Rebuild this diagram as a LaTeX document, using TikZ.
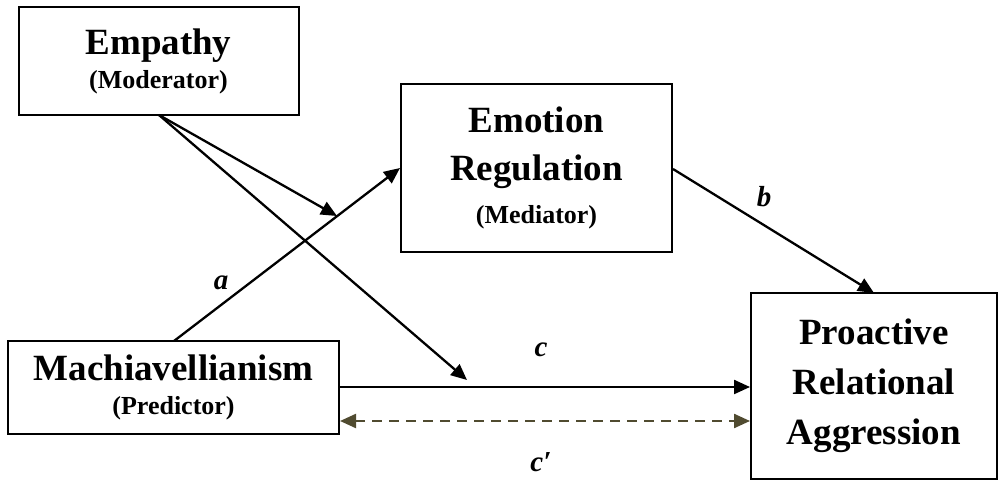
\documentclass[tikz,border=0pt]{standalone}
\usepackage{fontspec}
\setmainfont{Liberation Serif}
\usetikzlibrary{arrows.meta}

\begin{document}
\begin{tikzpicture}[x=0.5pt,y=-0.5pt,
            every node/.style={align=center,inner sep=0pt,font=\bfseries\fontsize{18.5pt}{24pt}\selectfont},
            var/.style={draw,line width=1pt},
            path/.style={line width=1.15pt,-{Triangle[length=8pt,width=7pt]}},
            coef/.style={font=\bfseries\itshape\fontsize{14.5pt}{16pt}\selectfont}]
                \useasboundingbox (0,0) rectangle (998,481);
                \definecolor{olivedash}{RGB}{80,75,48}
                \newcommand{\role}[1]{{\fontsize{13pt}{16pt}\selectfont #1}}

                \node[var,minimum width=140pt,minimum height=54pt](emp) at (158.5, 61) {Empathy\\[-7pt]\role{(Moderator)}};
                \node[var,minimum width=135.5pt,minimum height=84pt](emo) at (536.5, 168) {Emotion\\Regulation\\[-2.5pt]\role{(Mediator)}};
                \node[var,minimum width=165.5pt,minimum height=46.5pt](mach) at (173.5, 387.5) {Machiavellianism\\[-7pt]\role{(Predictor)}};
                \node[var,minimum width=123pt,minimum height=93pt](pra) at (874, 386) {Proactive\\[1pt]Relational\\[1pt]Aggression};

                \coordinate (empfoot) at (159, 115);
                \coordinate (machtop) at (174, 341);
                \coordinate (modA) at (337, 216);
                \coordinate (modC) at (467, 380);

            \begin{scope}[path]
                \draw (machtop) -- (emo.west |- 0,168);
                \draw (emo.east |- 0,169) -- (pra.north |- 0,293);
                \draw (mach.east |- 0,387) -- (pra.west |- 0,387);
                \draw (empfoot) -- (modA);
                \draw (empfoot) -- (modC);
                \draw[olivedash,dash pattern=on 5pt off 3.5pt,{Triangle[length=8pt,width=7pt]}-{Triangle[length=8pt,width=7pt]}]
                    (mach.east |- 0,421) -- (pra.west |- 0,421);
            \end{scope}

                \node[coef](la) at (221, 283) {a};
                \node[coef](lb) at (764, 197) {b};
                \node[coef](lc) at (541, 350) {c};
                \node[coef](lcp) at (541, 462) {c′};
        \end{tikzpicture}
\end{document}
